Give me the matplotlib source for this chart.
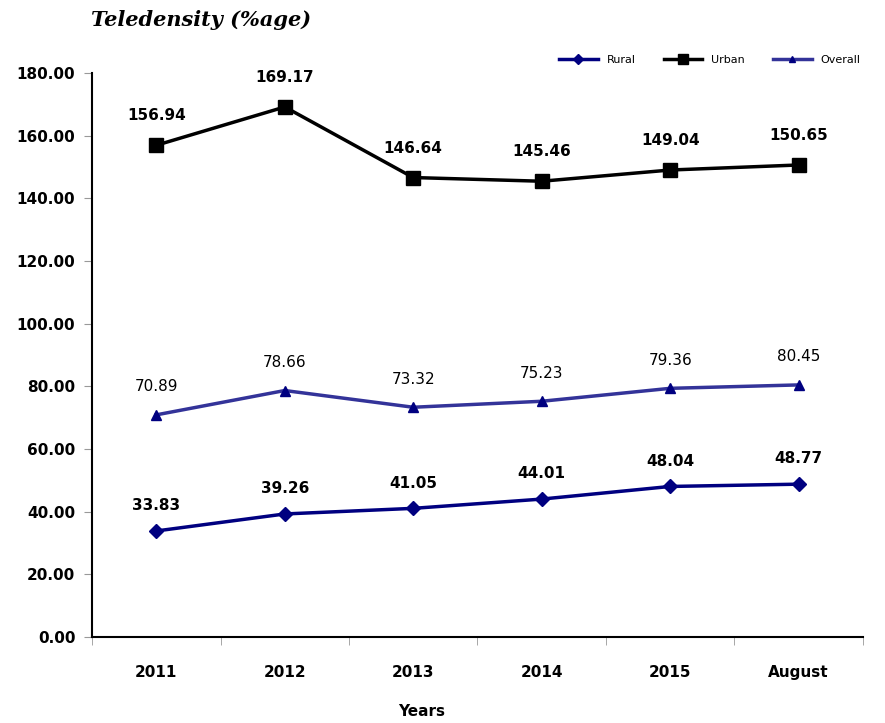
import numpy as np
import matplotlib.pyplot as plt
from matplotlib.ticker import FormatStrFormatter, FixedLocator

categories = ["2011", "2012", "2013", "2014", "2015", "August"]
rural = [33.83, 39.26, 41.05, 44.01, 48.04, 48.77]
urban = [156.94, 169.17, 146.64, 145.46, 149.04, 150.65]
overall = [70.89, 78.66, 73.32, 75.23, 79.36, 80.45]

plt.rcParams['font.family'] = ['DejaVu Sans']

fig = plt.figure(figsize=(8.85, 7.23), dpi=100)
ax = fig.add_axes([0.104, 0.119, 0.871, 0.780])
x = np.arange(len(categories))

ax.plot(x, rural, color='#000080', lw=2.5, marker='D', ms=7, label='Rural')
ax.plot(x, urban, color='black', lw=2.5, marker='s', ms=10, label='Urban')
ax.plot(x, overall, color='#333399', lw=2.5, marker='^', ms=7,
        markerfacecolor='#000080', markeredgecolor='#000080', label='Overall')

for xi, v in zip(x, urban):
    ax.annotate(f"{v:.2f}", (xi, v), xytext=(0, 18), textcoords='offset points',
                ha='center', fontsize=11, fontweight='bold')
for xi, v in zip(x, overall):
    ax.annotate(f"{v:.2f}", (xi, v), xytext=(0, 17), textcoords='offset points',
                ha='center', fontsize=11)
for xi, v in zip(x, rural):
    ax.annotate(f"{v:.2f}", (xi, v), xytext=(0, 15), textcoords='offset points',
                ha='center', fontsize=11, fontweight='bold')

ax.set_xlim(-0.5, len(categories) - 0.5)
ax.set_ylim(0, 180)
ax.set_yticks(np.arange(0, 181, 20))
ax.yaxis.set_major_formatter(FormatStrFormatter('%.2f'))
ax.set_xticks(x)
ax.set_xticklabels(categories)
ax.xaxis.set_minor_locator(FixedLocator(np.arange(-0.5, len(categories), 1)))
ax.tick_params(axis='x', which='major', length=0, pad=20)
ax.tick_params(axis='x', which='minor', length=6, color='#999999', direction='out')
ax.tick_params(axis='y', length=6, color='#999999', direction='out', pad=6)
for lab in ax.get_xticklabels() + ax.get_yticklabels():
    lab.set_fontweight('bold')
    lab.set_fontsize(11)

ax.spines['top'].set_visible(False)
ax.spines['right'].set_visible(False)
ax.spines['left'].set_linewidth(1.5)
ax.spines['bottom'].set_linewidth(1.5)

ax.set_xlabel("Years", fontsize=11, fontweight='bold', va='center')
ax.xaxis.set_label_coords(0.427, -0.133)

fig.text(0.103, 0.972, "Teledensity (%age)", fontsize=15, fontweight='bold',
         style='italic', family='DejaVu Serif', va='center')

ax.legend(loc='upper right', bbox_to_anchor=(1.01, 1.05), ncol=3, frameon=False,
          fontsize=8, handlelength=3.5, markerscale=0.7, columnspacing=2.5)

fig.savefig("out.png", dpi=100)
